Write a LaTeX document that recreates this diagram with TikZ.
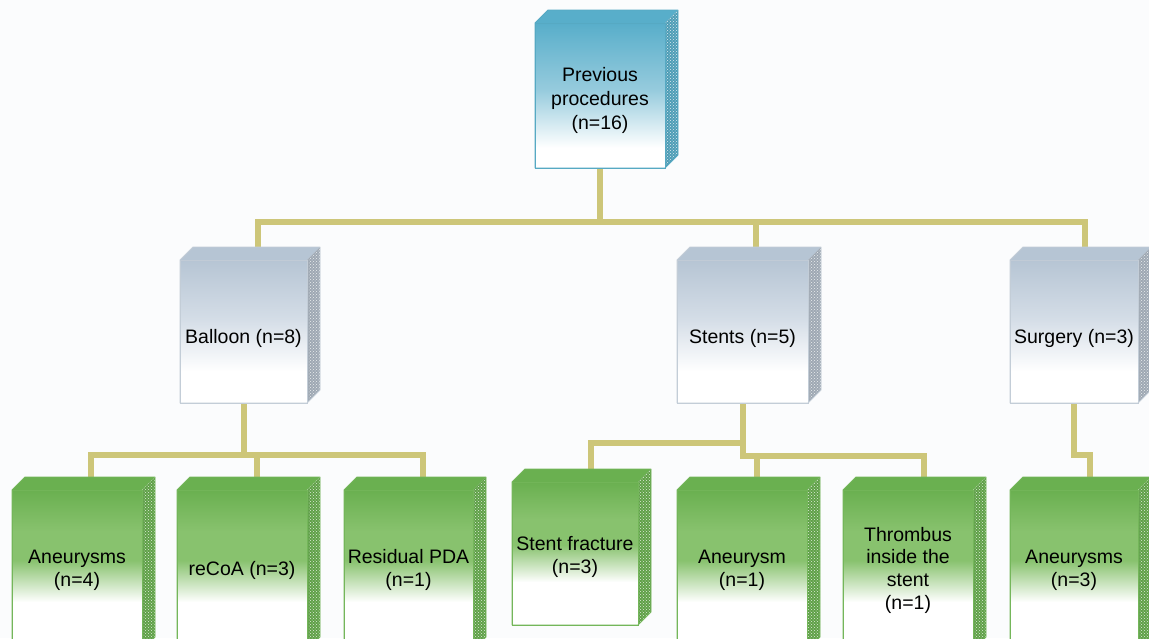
\documentclass[tikz,border=0pt]{standalone}
\usepackage{fontspec}
\setmainfont{Liberation Sans}
\usetikzlibrary{calc,patterns}
\definecolor{bgc}{HTML}{FBFCFD}
\definecolor{connc}{HTML}{CDC679}
\definecolor{tealtop}{HTML}{58AECA}
\definecolor{tealmid}{HTML}{96CBDD}
\definecolor{tealline}{HTML}{56A9C3}
\definecolor{tealside}{HTML}{4E9DB6}
\definecolor{graytop}{HTML}{B6C5D4}
\definecolor{graymid}{HTML}{D3DCE6}
\definecolor{grayline}{HTML}{C3CDD7}
\definecolor{grayside}{HTML}{9EA8B3}
\definecolor{greentop}{HTML}{6AB050}
\definecolor{greenmid}{HTML}{88C26E}
\definecolor{greenline}{HTML}{74B65A}
\definecolor{greenside}{HTML}{5FA047}
\pgfdeclareverticalshading{bluefade}{100bp}{color(0bp)=(white); color(25bp)=(white); color(32bp)=(white); color(52bp)=(tealmid); color(75bp)=(tealtop); color(100bp)=(tealtop)}
\pgfdeclareverticalshading{grayfade}{100bp}{color(0bp)=(white); color(25bp)=(white); color(36bp)=(white); color(55bp)=(graymid); color(75bp)=(graytop); color(100bp)=(graytop)}
\pgfdeclareverticalshading{greenfade}{100bp}{color(0bp)=(white); color(25bp)=(white); color(40bp)=(white); color(53bp)=(greenmid); color(62bp)=(greenmid); color(75bp)=(greentop); color(100bp)=(greentop)}
\newcommand\boxfont{\fontsize{19.5}{22.7}\selectfont}
\newcommand\lowered[2]{\raisebox{#1}[0pt][0pt]{#2}}
\newcommand\cubefaces[4]{%
  \fill[#2] (#1.north west) -- ++(13,13) -- ($(#1.north east)+(13,13)$) -- (#1.north east) -- cycle;
  \fill[#3] (#1.north east) -- ++(13,13) -- ($(#1.south east)+(13,13)$) -- (#1.south east) -- cycle;
  \fill[pattern=crosshatch dots, pattern color=white!80!#3] (#1.north east) -- ++(13,13) -- ($(#1.south east)+(13,13)$) -- (#1.south east) -- cycle;
  \draw[#4, line width=0.9pt, line join=round] (#1.south west) -- (#1.north west) -- ++(13,13) -- ($(#1.north east)+(13,13)$) -- ($(#1.south east)+(13,13)$) -- (#1.south east) -- cycle;
  \draw[#4, line width=0.6pt] (#1.north east) -- (#1.south east);
}
\pgfdeclarelayer{bg}
\pgfsetlayers{bg,main}
\begin{document}
\begin{tikzpicture}[x=1pt,y=1pt,
  conn/.style={draw=connc, line width=6pt, line join=miter},
  cube/.style={rectangle, inner sep=0pt, outer sep=0pt, anchor=north west, align=center, font=\boxfont, text=black, line width=0.9pt},
  bluecube/.style={cube, shading=bluefade, draw=tealline},
  graycube/.style={cube, shading=grayfade, draw=grayline},
  greencube/.style={cube, shading=greenfade, draw=greenline}]
\useasboundingbox (0,0) rectangle (1149,-638);
\clip (0,0) rectangle (1149,-638);

% top
\node[bluecube, minimum width=130, minimum height=145] (prev) at (535,-23) {\lowered{-10.4pt}{\renewcommand\arraystretch{1.06}\begin{tabular}{@{}c@{}}Previous\\procedures\\(n=16)\end{tabular}}};
\cubefaces{prev}{tealtop}{tealside}{tealline}

% middle row
\node[graycube, minimum width=127, minimum height=143] (balloon) at (180,-260) {\lowered{-12pt}{Balloon (n=8)}};
\cubefaces{balloon}{graytop}{grayside}{grayline}
\node[graycube, minimum width=131, minimum height=143] (stents) at (677,-260) {\lowered{-12pt}{Stents (n=5)}};
\cubefaces{stents}{graytop}{grayside}{grayline}
\node[graycube, minimum width=128, minimum height=143] (surgery) at (1010,-260) {\lowered{-12pt}{Surgery (n=3)}};
\cubefaces{surgery}{graytop}{grayside}{grayline}

% bottom row
\node[greencube, minimum width=130, minimum height=160] (aneu4) at (12,-490) {Aneurysms\\(n=4)};
\cubefaces{aneu4}{greentop}{greenside}{greenline}
\node[greencube, minimum width=130, minimum height=160] (recoa) at (177,-490) {reCoA (n=3)};
\cubefaces{recoa}{greentop}{greenside}{greenline}
\node[greencube, minimum width=129, minimum height=160] (pda) at (344,-490) {Residual PDA\\(n=1)};
\cubefaces{pda}{greentop}{greenside}{greenline}
\node[greencube, minimum width=126, minimum height=143] (fract) at (512,-482) {\lowered{-9.4pt}{\begin{tabular}{@{}c@{}}Stent fracture\\(n=3)\end{tabular}}};
\cubefaces{fract}{greentop}{greenside}{greenline}
\node[greencube, minimum width=130, minimum height=160] (aneu1) at (677,-490) {Aneurysm\\(n=1)};
\cubefaces{aneu1}{greentop}{greenside}{greenline}
\node[greencube, minimum width=130, minimum height=160] (thromb) at (843,-490) {Thrombus\\inside the\\stent\\(n=1)};
\cubefaces{thromb}{greentop}{greenside}{greenline}
\node[greencube, minimum width=128, minimum height=160] (aneu3) at (1010,-490) {Aneurysms\\(n=3)};
\cubefaces{aneu3}{greentop}{greenside}{greenline}

% connectors (behind the boxes)
\coordinate (busL) at (258,-222);
\coordinate (busM) at (756,-222);
\coordinate (busR) at (1085,-222);
\coordinate (balL) at (91,-455);
\coordinate (balM) at (257,-455);
\coordinate (balR) at (423,-455);
\coordinate (stJ) at (742.5,-443);
\coordinate (stL) at (591,-443);
\coordinate (stM) at (757,-456);
\coordinate (stR) at (924,-456);
\coordinate (suA) at (1074,-455);
\coordinate (suB) at (1090,-455);
\begin{pgfonlayer}{bg}
\fill[bgc] (0,0) rectangle (1149,-638);
\draw[conn] (prev.south) -- (prev.south |- busL);
\draw[conn] (busL |- balloon.north) -- (busL) -- (busR) -- (busR |- surgery.north);
\draw[conn] (busM) -- (busM |- stents.north);
\draw[conn] (balloon.south) -- (balloon.south |- balL);
\draw[conn] (balL |- aneu4.north) -- (balL) -- (balR) -- (balR |- pda.north);
\draw[conn] (balM) -- (balM |- recoa.north);
\draw[conn] (stents.south) -- (stents.south |- stM) -- (stR) -- (stR |- thromb.north);
\draw[conn] (stJ) -- (stL) -- (stL |- fract.north);
\draw[conn] (stM) -- (stM |- aneu1.north);
\draw[conn] (surgery.south) -- (suA) -- (suB) -- (suB |- aneu3.north);
\end{pgfonlayer}
\end{tikzpicture}
\end{document}
